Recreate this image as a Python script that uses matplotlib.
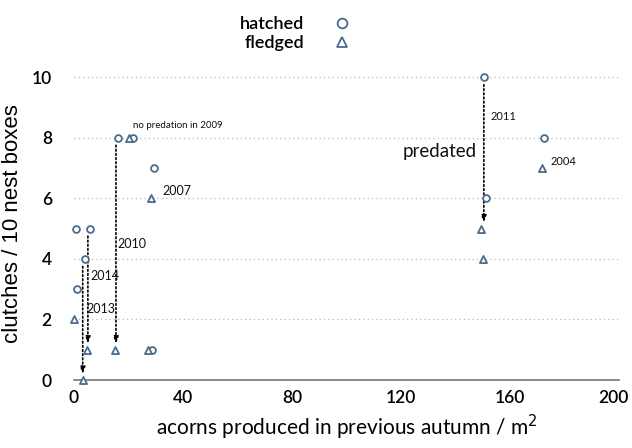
import matplotlib
matplotlib.use('Agg')
import matplotlib.pyplot as plt
import matplotlib.transforms as mtransforms
from matplotlib.lines import Line2D

plt.rcParams['font.family'] = ['Lato', 'DejaVu Sans']

# acorns per m2 vs clutches per 10 nest boxes
hatched_x = [0.7, 5.9, 4.0, 1.1, 16.1, 21.7, 29.4, 28.7, 150.5, 151.2, 172.5]
hatched_y = [5, 5, 4, 3, 8, 8, 7, 1, 10, 6, 8]
fledged_x = [0.1, 4.8, 15.0, 27.3, 28.3, 3.3, 20.0, 149.4, 150.1, 171.7]
fledged_y = [2, 1, 1, 1, 6, 0, 8, 5, 4, 7]

# predation arrows: (x, from_y, to_y)
arrows = [(150.4, 9.75, 5.2), (15.4, 7.75, 1.2), (5.1, 4.75, 1.2), (3.2, 3.75, 0.2)]

# year labels: (text, x, y, size)
labels = [('no predation in 2009', 21.7, 8.4, 7),
          ('2007', 32.3, 6.24, 9),
          ('2010', 16.1, 4.48, 9),
          ('2014', 5.9, 3.43, 9),
          ('2013', 4.4, 2.35, 9),
          ('2011', 152.7, 8.69, 8),
          ('2004', 175.0, 7.22, 8)]

col = '#4a6b8c'

fig = plt.figure(figsize=(6.32, 4.48), dpi=100)
ax = fig.add_axes([74 / 632, 68 / 448, 545 / 632, 312 / 448])

for y in [2, 4, 6, 8, 10]:
    ax.plot([0, 200], [y, y], color='#bbbbbb', lw=0.9, ls=(0, (1, 2.5)), zorder=1)

ax.scatter(hatched_x, hatched_y, s=24, marker='o', facecolors='white',
           edgecolors=col, linewidths=1.3, zorder=3, clip_on=False)
ax.scatter(fledged_x, fledged_y, s=26, marker='^', facecolors='white',
           edgecolors=col, linewidths=1.3, zorder=3, clip_on=False)

for x, y0, y1 in arrows:
    ax.annotate('', xy=(x, y1), xytext=(x, y0),
                arrowprops=dict(arrowstyle='-|>,head_length=0.4,head_width=0.15',
                                color='black', lw=1.2, ls=(0, (1, 1.5)),
                                shrinkA=0, shrinkB=0), zorder=2)

for t, x, y, s in labels:
    ax.text(x, y, t, fontsize=s, ha='left', va='center', color='#111111')
ax.text(147.9, 7.55, 'predated', fontsize=13.5, ha='right', va='center', color='#111111')

ax.set_xlim(0, 200)
ax.set_ylim(0, 10.3)
ax.set_xticks([0, 40, 80, 120, 160, 200])
ax.set_yticks([0, 2, 4, 6, 8, 10])
ax.tick_params(axis='both', length=0, labelsize=12.5)
ax.tick_params(axis='y', pad=16)
ax.tick_params(axis='x', pad=7)
for lab in ax.get_xticklabels() + ax.get_yticklabels():
    lab.set_fontweight('semibold')
# keep the last x label inside the canvas
last = ax.get_xticklabels()[-1]
last.set_transform(last.get_transform() +
                   mtransforms.ScaledTranslation(-6 / 100, 0, fig.dpi_scale_trans))
for sp in ['top', 'right', 'left']:
    ax.spines[sp].set_visible(False)
ax.spines['bottom'].set_color('#777777')
ax.spines['bottom'].set_linewidth(1.2)

ax.set_xlabel('acorns produced in previous autumn / m$^2$', fontsize=15, labelpad=5)
ax.set_ylabel('clutches / 10 nest boxes', fontsize=16, family='Liberation Sans', labelpad=6)

handles = [Line2D([], [], ls='none', marker='o', mfc='white', mec=col, mew=1.3, ms=7),
           Line2D([], [], ls='none', marker='^', mfc='white', mec=col, mew=1.3, ms=7)]
fig.legend(handles, ['hatched', 'fledged'], loc='upper center', bbox_to_anchor=(0.468, 1.0),
           frameon=False, markerfirst=False, prop={'size': 13, 'weight': 'semibold'},
           handletextpad=1.6, labelspacing=0.15, handlelength=1.0)

fig.savefig('out.png', dpi=100)
